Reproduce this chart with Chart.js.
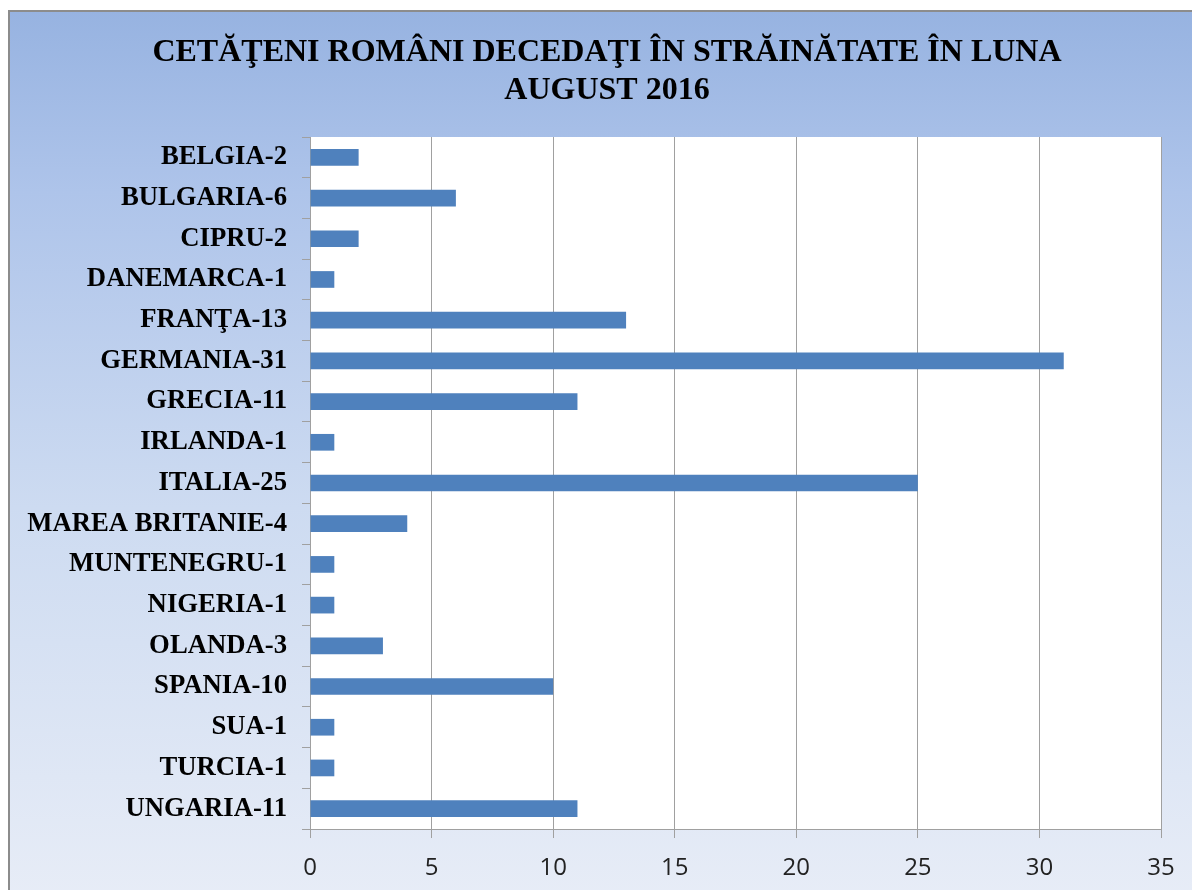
<!DOCTYPE html>
<html>
<head>
<meta charset="utf-8">
<script src="https://cdn.jsdelivr.net/npm/chart.js@4"></script>
<style>
  html, body { margin: 0; padding: 0; background: #fff; overflow: hidden; }
  #frame {
    position: absolute; left: 8px; top: 10px; width: 1200px; height: 900px;
    border-left: 2px solid #8c8c8c; border-top: 2px solid #8c8c8c;
    background: linear-gradient(#97b3e1 0%, #aec4ea 20%, #cddbf1 55%, #e8edf7 100%);
  }
  #wrap { position: absolute; left: 0; top: 0; width: 1192px; height: 890px; }
</style>
</head>
<body>
<div id="frame"></div>
<div id="wrap"><canvas id="myChart"></canvas></div>
<script>
// data
const countries = ["BELGIA-2", "BULGARIA-6", "CIPRU-2", "DANEMARCA-1", "FRANŢA-13", "GERMANIA-31",
  "GRECIA-11", "IRLANDA-1", "ITALIA-25", "MAREA BRITANIE-4", "MUNTENEGRU-1", "NIGERIA-1",
  "OLANDA-3", "SPANIA-10", "SUA-1", "TURCIA-1", "UNGARIA-11"];
const deaths = [2, 6, 2, 1, 13, 31, 11, 1, 25, 4, 1, 1, 3, 10, 1, 1, 11];
const titleLines = ["CETĂŢENI ROMÂNI DECEDAŢI ÎN STRĂINĂTATE ÎN LUNA", "AUGUST 2016"];
const xMin = 0;
const xMax = 35;
const xStep = 5;

const serif = "'Liberation Serif', 'Times New Roman', serif";

// white plot area, the rest stays transparent over the gradient frame
const plotBackground = {
  id: "plotBackground",
  beforeDraw(chart) {
    const { ctx, chartArea } = chart;
    ctx.save();
    ctx.fillStyle = "#ffffff";
    ctx.fillRect(chartArea.left, chartArea.top, chartArea.right - chartArea.left, chartArea.bottom - chartArea.top);
    ctx.restore();
  }
};

// title is centred on the whole frame, not on the chart box
const frameTitle = {
  id: "frameTitle",
  afterDraw(chart) {
    const ctx = chart.ctx;
    ctx.save();
    ctx.fillStyle = "#000";
    ctx.font = "bold 32px " + serif;
    ctx.textAlign = "center";
    ctx.textBaseline = "alphabetic";
    titleLines.forEach((line, i) => {
      ctx.fillText(line, 607, 61 + i * 38);
    });
    ctx.restore();
  }
};

function mainEvent() {
  const target = document.querySelector("#myChart");
  const chart = new Chart(target, {
    type: "bar",
    data: {
      labels: countries,
      datasets: [{
        data: deaths,
        backgroundColor: "#4f81bd",
        borderWidth: 0,
        categoryPercentage: 1,
        barPercentage: 0.41
      }]
    },
    plugins: [plotBackground, frameTitle],
    options: {
      indexAxis: "y",
      responsive: true,
      maintainAspectRatio: false,
      animation: false,
      layout: { padding: { left: 22, right: 31, top: 137, bottom: 0 } },
      plugins: {
        legend: { display: false },
        tooltip: { enabled: false },
        title: { display: false }
      },
      scales: {
        x: {
          min: xMin,
          max: xMax,
          ticks: {
            stepSize: xStep,
            color: "#222",
            padding: 16,
            font: { family: "'Open Sans', sans-serif", size: 24 }
          },
          grid: { color: "#a0a0a0", lineWidth: 1, tickLength: 9 },
          border: { color: "#a0a0a0", width: 1 },
          afterFit: (scale) => { scale.height = 61; }
        },
        y: {
          ticks: {
            color: "#000",
            padding: 15,
            font: { family: serif, size: 26.7, weight: "bold" }
          },
          grid: { drawOnChartArea: false, color: "#a0a0a0", tickLength: 8 },
          border: { color: "#a0a0a0", width: 1 },
          afterFit: (scale) => { scale.width = 288; }
        }
      }
    }
  });
  return chart;
}

document.addEventListener("DOMContentLoaded", () => mainEvent());
</script>
</body>
</html>
